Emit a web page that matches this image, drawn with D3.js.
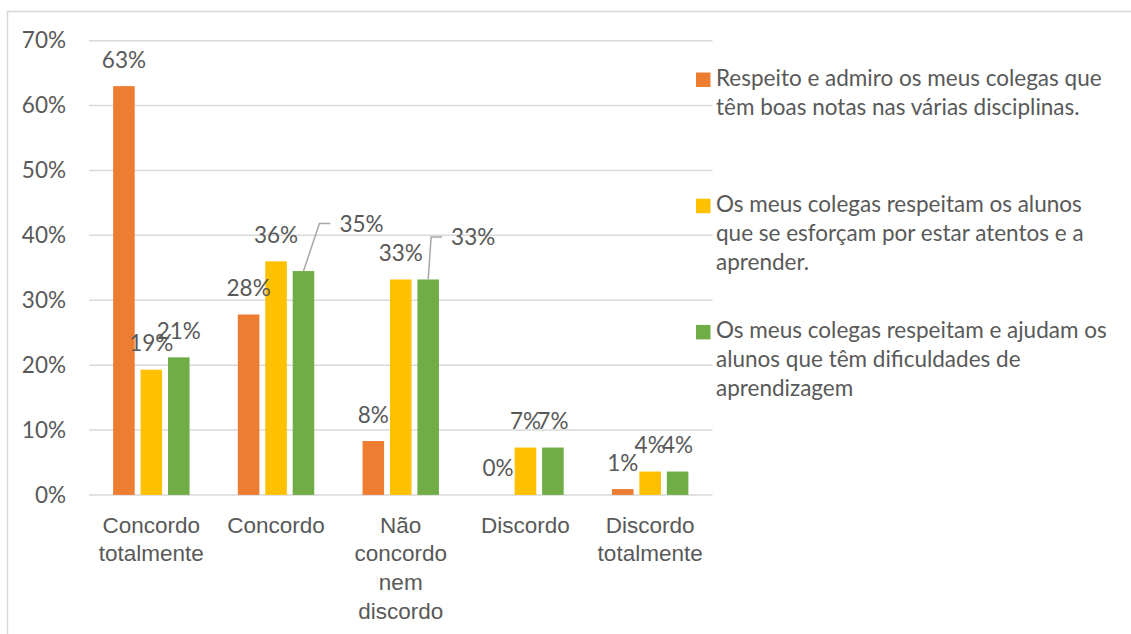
<!DOCTYPE html>
<html>
<head>
<meta charset="utf-8">
<script src="https://cdn.jsdelivr.net/npm/d3@7"></script>
<style>
  body { margin: 0; background: #fff; }
  svg { display: block; font-family: Lato, 'Open Sans', sans-serif; }
</style>
</head>
<body>
<div id="chart"></div>
<script>
const categories = [
  ['Concordo', 'totalmente'],
  ['Concordo'],
  ['Não', 'concordo', 'nem', 'discordo'],
  ['Discordo'],
  ['Discordo', 'totalmente'],
]

const seriesNames = [
  ['Respeito e admiro os meus colegas que', 'têm boas notas nas várias disciplinas.'],
  ['Os meus colegas respeitam os alunos', 'que se esforçam por estar atentos e a', 'aprender.'],
  ['Os meus colegas respeitam e ajudam os', 'alunos que têm dificuldades de', 'aprendizagem'],
]

const respeitoAdmiro = [0.63, 0.278, 0.083, 0.0, 0.009]
const respeitamEsforco = [0.193, 0.36, 0.332, 0.073, 0.036]
const respeitamAjudam = [0.212, 0.345, 0.332, 0.073, 0.036]

const seriesValues = [respeitoAdmiro, respeitamEsforco, respeitamAjudam]
const colors = ['#ED7D31', '#FFC000', '#70AD47']

const yTicks = [0, 0.1, 0.2, 0.3, 0.4, 0.5, 0.6, 0.7]

// labels Excel had dragged aside, with a leader line
const movedLabels = [
  { series: 2, category: 1, dx: 58, dy: -39 },
  { series: 2, category: 2, dx: 45, dy: -34 },
]

const width = 1131
const height = 634
const margin = { left: 89, top: 40.7, right: 418.5, bottom: 139.1 }
const textColor = '#595959'
const fontSize = 22.5

const svg = d3
  .select('#chart')
  .append('svg')
  .attr('width', width)
  .attr('height', height)

// chart frame (only top and left edges are inside the picture)
svg
  .append('rect')
  .attr('x', 7.5)
  .attr('y', 11.5)
  .attr('width', width + 20)
  .attr('height', height + 20)
  .attr('fill', 'none')
  .attr('stroke', '#d9d9d9')
  .attr('stroke-width', 1.5)

const xScale = d3
  .scaleBand()
  .domain(d3.range(categories.length))
  .range([margin.left, width - margin.right])

const yScale = d3
  .scaleLinear()
  .domain([0, 0.7])
  .range([height - margin.bottom, margin.top])

const barWidth = xScale.bandwidth() * 0.173
const barStep = xScale.bandwidth() * 0.22
const barX = (c, s) =>
  xScale(c) + xScale.bandwidth() / 2 + (s - 1) * barStep - barWidth / 2

// gridlines
svg
  .append('g')
  .selectAll('line')
  .data(yTicks)
  .join('line')
  .attr('x1', margin.left)
  .attr('x2', width - margin.right)
  .attr('y1', d => yScale(d))
  .attr('y2', d => yScale(d))
  .attr('stroke', '#d9d9d9')
  .attr('stroke-width', 1.5)

// y axis
const yAxis = svg
  .append('g')
  .attr('transform', `translate(${margin.left - 23}, 0)`)
  .call(
    d3
      .axisLeft(yScale)
      .tickValues(yTicks)
      .tickSize(0)
      .tickPadding(0)
      .tickFormat(d3.format('.0%')),
  )
yAxis.select('.domain').remove()
yAxis
  .selectAll('text')
  .attr('fill', textColor)
  .attr('font-size', fontSize)
  .attr('font-family', 'Lato, sans-serif')

// x axis with wrapped labels
const xAxis = svg
  .append('g')
  .attr('transform', `translate(0, ${height - margin.bottom})`)
  .call(d3.axisBottom(xScale).tickSize(0).tickFormat(''))
xAxis.select('.domain').remove()
xAxis
  .selectAll('.tick')
  .append('text')
  .attr('fill', textColor)
  .attr('font-size', fontSize)
  .attr('text-anchor', 'middle')
  .selectAll('tspan')
  .data(d => categories[d])
  .join('tspan')
  .attr('x', 0)
  .attr('y', (_, i) => 38 + i * 28.6)
  .text(d => d)

// bars
seriesValues.forEach((values, s) => {
  svg
    .append('g')
    .selectAll('rect')
    .data(values)
    .join('rect')
    .attr('x', (_, c) => barX(c, s))
    .attr('y', d => yScale(d))
    .attr('width', barWidth)
    .attr('height', d => yScale(0) - yScale(d))
    .attr('fill', colors[s])
})

// data labels
const labelLayer = svg.append('g')
seriesValues.forEach((values, s) => {
  values.forEach((v, c) => {
    const cx = barX(c, s) + barWidth / 2
    const top = yScale(v)
    const moved = movedLabels.find(m => m.series === s && m.category === c)
    const label = labelLayer
      .append('text')
      .attr('fill', textColor)
      .attr('font-size', fontSize)
      .text(d3.format('.0%')(v))
    if (moved) {
      const tx = cx + moved.dx
      const ty = top + moved.dy
      label.attr('x', tx).attr('y', ty).attr('text-anchor', 'middle')
      const textLeft = tx - label.node().getComputedTextLength() / 2
      const midY = ty - 8.5
      labelLayer
        .append('path')
        .attr('d', `M${cx},${top}L${textLeft - 20},${midY}H${textLeft - 9}`)
        .attr('fill', 'none')
        .attr('stroke', '#a6a6a6')
        .attr('stroke-width', 1.5)
    } else {
      label.attr('x', cx).attr('y', top - 18.5).attr('text-anchor', 'middle')
    }
  })
})

// legend
const legend = svg.append('g').attr('transform', 'translate(696, 0)')
seriesNames.forEach((lines, s) => {
  const baseY = 86 + s * 126.2
  legend
    .append('rect')
    .attr('x', 0)
    .attr('y', baseY - 13.5)
    .attr('width', 14.5)
    .attr('height', 14.5)
    .attr('fill', colors[s])
  legend
    .append('text')
    .attr('fill', textColor)
    .attr('font-size', fontSize)
    .selectAll('tspan')
    .data(lines)
    .join('tspan')
    .attr('x', 20)
    .attr('y', (_, i) => baseY + i * 29)
    .text(d => d)
})
</script>
</body>
</html>
